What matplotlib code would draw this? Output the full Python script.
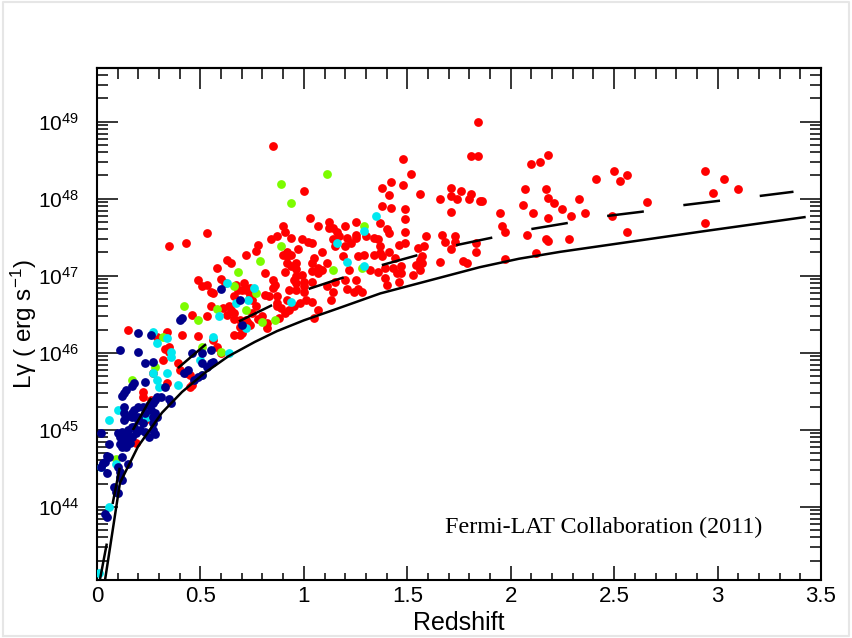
import numpy as np
import matplotlib
matplotlib.use('Agg')
import matplotlib.pyplot as plt
from matplotlib.ticker import MultipleLocator, LogLocator, NullFormatter, LogFormatterSciNotation
from matplotlib.lines import Line2D

plt.rcParams['font.family'] = ['Liberation Sans', 'DejaVu Sans']
plt.rcParams['mathtext.default'] = 'regular'

# ---------------- data (redshift, log10 L_gamma) ----------------
red_z = [1.84, 1.81, 1.84, 1.48, 1.52, 1.42, 1.38, 1.48, 1.56, 1.41, 1.00, 1.71, 1.76, 1.71, 1.74,
         1.81, 1.80, 1.85, 1.86, 1.66, 2.10, 2.14, 2.18, 2.07, 2.17, 2.18, 2.06, 2.21, 2.25, 2.11,
         2.18, 2.29, 2.33, 1.95, 1.71, 1.49, 1.38, 1.42, 1.03, 1.49, 1.49, 1.67, 1.68, 1.59, 1.73,
         1.73, 1.71, 1.83, 1.83, 1.96, 1.97, 2.08, 2.17, 2.18, 2.28, 2.12, 1.97, 1.77, 1.79, 1.66,
         1.56, 1.57, 1.58, 1.55, 1.46, 1.49, 1.44, 1.47, 1.41, 1.38, 1.37, 1.34, 1.36, 1.40, 1.41,
         1.37, 1.30, 1.25, 1.20, 1.12, 1.14, 1.12, 1.07, 0.90, 0.91, 0.94, 0.99, 1.02, 1.04, 0.97,
         0.90, 0.94, 1.05, 1.09, 1.04, 1.14, 1.16, 1.17, 1.21, 1.15, 1.20, 1.23, 1.25, 1.25, 1.19,
         1.26, 1.29, 1.34, 1.37, 1.11, 1.07, 1.07, 1.09, 1.04, 0.99, 0.96, 0.91, 0.94, 0.95, 0.93,
         0.96, 1.00, 1.04, 1.01, 0.98, 1.04, 1.11, 1.14, 1.13, 1.15, 1.20, 1.22, 1.24, 1.21, 1.26,
         1.28, 1.25, 1.32, 1.36, 1.39, 1.40, 1.39, 1.43, 1.45, 1.47, 1.46, 1.53, 1.56, 1.54, 1.57,
         0.92, 0.95, 0.89, 0.88, 1.07, 1.05, 0.91,
         2.94, 3.03, 2.98, 3.10, 2.94, 2.50, 2.56, 2.53, 2.41, 2.36, 2.66, 2.49, 2.56,
         0.85, 0.53, 0.35, 0.43, 0.87, 0.78, 0.77, 0.72, 0.63, 0.65, 0.92, 0.96, 0.81, 0.92, 0.49,
         0.51, 0.60, 0.62, 0.55, 0.56, 0.67, 0.68, 0.71, 0.72, 0.74, 0.74, 0.85, 0.86, 0.85, 1.00,
         1.00, 0.66, 0.70, 0.75, 0.77, 0.81, 0.83, 0.87, 0.87, 0.93, 0.46, 0.53, 0.55, 0.61, 0.63,
         0.65, 0.66, 0.69, 0.69, 0.78, 0.82, 0.82, 0.74, 0.41, 0.49, 0.66, 0.69, 0.34, 0.29, 0.92,
         0.58, 0.53, 0.96, 0.96, 0.64, 0.66, 0.75, 0.80, 0.87, 0.84, 0.15, 0.33, 0.35, 0.35, 0.32,
         0.39, 0.40, 0.34, 0.27, 0.43, 0.45, 0.22, 0.22, 0.26, 0.45, 0.46, 0.23, 0.60, 0.58, 0.56,
         0.70, 0.70, 0.72, 0.73, 0.19]
red_logL = [48.99, 48.55, 48.55, 48.51, 48.32, 48.22, 48.14, 48.18, 48.06, 48.05, 48.10, 48.14, 48.10, 48.03, 48.00,
            48.06, 47.99, 47.97, 47.97, 48.00, 48.45, 48.47, 48.57, 48.13, 48.12, 48.01, 47.92, 47.94, 47.86, 47.82,
            47.75, 47.78, 47.99, 47.82, 47.83, 47.86, 47.90, 47.88, 47.75, 47.73, 47.57, 47.53, 47.44, 47.51, 47.51,
            47.44, 47.34, 47.43, 47.31, 47.64, 47.57, 47.53, 47.48, 47.45, 47.48, 47.29, 47.22, 47.19, 47.17, 47.18,
            47.21, 47.25, 47.38, 47.36, 47.40, 47.43, 47.23, 47.13, 47.31, 47.25, 47.39, 47.49, 47.47, 47.60, 47.55,
            47.69, 47.51, 47.70, 47.64, 47.62, 47.62, 47.70, 47.65, 47.65, 47.57, 47.49, 47.48, 47.44, 47.43, 47.35,
            47.27, 47.27, 47.23, 47.31, 47.17, 47.48, 47.57, 47.51, 47.49, 47.38, 47.38, 47.42, 47.49, 47.53, 47.26,
            47.25, 47.27, 47.27, 47.30, 47.16, 47.10, 47.04, 47.08, 47.06, 47.01, 47.17, 47.05, 47.12, 46.95, 46.82,
            46.82, 46.92, 46.92, 46.69, 46.65, 46.66, 46.86, 46.79, 46.69, 46.92, 46.95, 47.08, 46.79, 46.83, 46.83,
            46.79, 46.95, 47.08, 47.05, 46.97, 46.88, 47.10, 47.10, 47.04, 47.04, 46.92, 47.01, 47.08, 47.14, 47.17,
            46.69, 46.60, 46.58, 46.45, 46.56, 46.45, 46.52,
            48.36, 48.25, 48.08, 48.13, 47.69, 48.36, 48.31, 48.23, 48.25, 47.81, 47.96, 47.77, 47.57,
            48.68, 47.56, 47.38, 47.43, 47.51, 47.40, 47.32, 47.27, 47.21, 47.17, 47.25, 47.09, 47.03, 47.17, 46.95,
            46.87, 46.96, 46.91, 46.79, 46.78, 46.88, 46.82, 46.91, 46.81, 46.84, 46.75, 46.95, 46.88, 46.84, 46.86,
            46.79, 46.74, 46.82, 46.69, 46.61, 46.75, 46.73, 46.73, 46.65, 46.56, 46.49, 46.48, 46.60, 46.58, 46.49,
            46.55, 46.44, 46.43, 46.34, 46.44, 46.39, 46.32, 46.36, 46.23, 46.22, 46.23, 46.23, 46.27, 46.21, 47.31,
            47.10, 46.88, 47.00, 46.91, 46.60, 46.52, 46.52, 46.47, 46.60, 47.48, 46.30, 46.05, 46.01, 46.08, 45.90,
            45.87, 45.78, 45.61, 45.74, 45.74, 45.71, 45.49, 45.43, 45.39, 45.55, 45.58, 45.13, 46.00, 46.08, 46.17,
            46.25, 46.39, 46.43, 46.39, 44.83]

navy_z = [0.20, 0.26, 0.11, 0.20, 0.23, 0.27, 0.40, 0.46, 0.42, 0.44, 0.47, 0.49, 0.51, 0.53, 0.55,
          0.56, 0.51, 0.55, 0.23, 0.18, 0.17, 0.14, 0.13, 0.12, 0.33, 0.29, 0.31, 0.28, 0.27, 0.25,
          0.35, 0.36, 0.20, 0.22, 0.18, 0.17, 0.17, 0.13, 0.13, 0.14, 0.13, 0.20, 0.23, 0.26, 0.27,
          0.28, 0.20, 0.22, 0.27, 0.18, 0.21, 0.23, 0.19, 0.15, 0.16, 0.14, 0.13, 0.17, 0.10, 0.11,
          0.02, 0.27, 0.28, 0.25, 0.29, 0.12, 0.15, 0.14, 0.11, 0.12, 0.14, 0.16, 0.17, 0.06, 0.05,
          0.06, 0.03, 0.02, 0.04, 0.05, 0.10, 0.11, 0.15, 0.11, 0.12, 0.08, 0.09, 0.10, 0.04, 0.05,
          0.12, 0.60, 0.69, 0.70, 0.41, 0.51]
navy_logL = [46.25, 46.23, 46.03, 46.01, 45.87, 45.88, 46.43, 46.00, 45.74, 45.78, 45.64, 45.69, 45.71, 45.81, 45.87,
             45.88, 46.00, 46.04, 45.62, 45.60, 45.57, 45.52, 45.48, 45.44, 45.55, 45.42, 45.43, 45.39, 45.35, 45.32,
             45.40, 45.35, 45.29, 45.30, 45.26, 45.22, 45.17, 45.30, 45.22, 45.17, 45.13, 45.17, 45.22, 45.26, 45.17,
             45.22, 45.13, 45.09, 45.09, 45.04, 45.00, 44.97, 44.96, 45.00, 44.91, 44.94, 44.90, 45.04, 44.96, 44.90,
             44.96, 45.00, 44.94, 44.91, 45.17, 44.97, 44.90, 44.84, 44.81, 44.77, 44.78, 44.83, 44.91, 44.81, 44.66,
             44.64, 44.57, 44.52, 44.58, 44.44, 44.51, 44.45, 44.55, 44.39, 44.35, 44.25, 44.19, 44.18, 43.90, 43.87,
             44.65, 46.83, 46.69, 46.36, 46.45, 45.87]

cyan_z = [0.09, 0.06, 0.01, 0.27, 0.34, 0.29, 0.36, 0.36, 0.56, 0.72, 0.27, 0.29, 0.34, 0.39, 0.50,
          0.64, 0.10, 0.06, 0.24, 0.63, 0.76, 0.73, 0.67, 0.59, 0.94, 1.35, 1.29, 1.16, 1.21, 1.29,
          0.02, 0.30, 0.22]
cyan_logL = [44.55, 44.00, 43.14, 46.27, 46.19, 46.13, 46.01, 45.95, 46.21, 46.32, 45.74, 45.65, 45.74, 45.58, 45.91,
             46.00, 45.26, 45.13, 45.16, 46.91, 46.84, 46.69, 46.65, 46.47, 46.66, 47.78, 47.58, 47.43, 47.18, 47.12,
             44.52, 45.55, 45.13]

green_z = [0.89, 1.11, 0.94, 0.89, 1.29, 1.14, 1.28, 0.79, 0.68, 0.66, 0.58, 0.80, 0.86, 0.42, 0.49,
           0.77, 0.72, 0.32, 0.60, 0.51, 0.17, 0.28, 0.51, 0.09]
green_logL = [48.19, 48.32, 47.95, 47.39, 47.65, 47.08, 47.10, 47.19, 47.05, 46.87, 46.57, 46.40, 46.42, 46.61, 46.42,
              46.78, 46.55, 46.21, 46.01, 46.08, 45.64, 45.82, 45.71, 44.62]

# flux-limit curves
solid_z = [0.039, 0.111, 0.150, 0.198, 0.314, 0.411, 0.522, 0.633, 0.763, 0.870, 1.00, 1.16, 1.37,
           1.85, 2.04, 2.24, 2.94, 3.42]
solid_logL = [43.05, 44.31, 44.52, 44.78, 45.22, 45.49, 45.74, 45.95, 46.14, 46.28, 46.42, 46.57, 46.77,
              47.11, 47.22, 47.31, 47.58, 47.76]
dash_z = [0.014, 0.048, 0.077, 0.111, 0.174, 0.256, 0.387, 0.522, 0.681, 0.841, 1.014, 1.184,
          1.367, 1.541, 1.725, 1.903, 2.087, 2.266, 2.449, 2.633, 2.816, 3.0, 3.188, 3.367]
dash_logL = [43.05, 43.53, 44.06, 44.52, 45.0, 45.39, 45.79, 46.10, 46.40, 46.61, 46.82, 46.97,
             47.13, 47.26, 47.39, 47.49, 47.60, 47.68, 47.77, 47.83, 47.91, 47.97, 48.03, 48.09]

x_ticks = [0, 0.5, 1, 1.5, 2, 2.5, 3, 3.5]
x_ticklabels = ['0', '0.5', '1', '1.5', '2', '2.5', '3', '3.5']

# ---------------- figure ----------------
W, H = 852, 638
fig = plt.figure(figsize=(W / 100, H / 100), dpi=100)
ax = fig.add_axes([97 / W, 1 - 580 / H, (821 - 97) / W, (580 - 68) / H])

ms = 40
ax.scatter(red_z, 10 ** np.array(red_logL), s=ms, c='#ff0000', linewidths=0, zorder=2)
ax.scatter(green_z, 10 ** np.array(green_logL), s=ms, c='#7cfc00', linewidths=0, zorder=3)
ax.scatter(cyan_z, 10 ** np.array(cyan_logL), s=ms, c='#00e8f0', linewidths=0, zorder=3.5)
ax.scatter(navy_z, 10 ** np.array(navy_logL), s=ms, c='#00008b', linewidths=0, zorder=4)

lw = 1.8
ax.plot(solid_z, 10 ** np.array(solid_logL), color='black', lw=lw, zorder=5)
ax.plot(dash_z, 10 ** np.array(dash_logL), color='black', lw=lw,
        linestyle=(0, (26.6 / lw, 28.8 / lw)), zorder=5)

ax.set_yscale('log')
ax.set_xlim(0, 3.5)
ax.set_ylim(10 ** 43.048, 10 ** 49.697)

ax.set_xticks(x_ticks)
ax.set_xticklabels(x_ticklabels)
ax.xaxis.set_minor_locator(MultipleLocator(0.1))
ax.yaxis.set_major_locator(LogLocator(base=10, numticks=20))
ax.yaxis.set_minor_locator(LogLocator(base=10, subs=np.arange(2, 10), numticks=20))
ax.yaxis.set_minor_formatter(NullFormatter())
ax.yaxis.set_major_formatter(LogFormatterSciNotation())

ax.tick_params(axis='x', which='major', direction='in', length=10, width=1.1, top=False,
               labelsize=16, pad=4.5)
ax.tick_params(axis='x', which='minor', direction='in', length=5, width=1.1, top=False)
ax.tick_params(axis='y', which='major', direction='in', length=15, width=1.1, right=True,
               labelsize=15, pad=13)
ax.tick_params(axis='y', which='minor', direction='in', length=8, width=1.1, right=True)

sec = ax.secondary_xaxis('top')
sec.set_xticks(x_ticks)
sec.xaxis.set_minor_locator(MultipleLocator(0.1))
sec.tick_params(axis='x', which='major', direction='in', length=15, width=1.1, labeltop=False)
sec.tick_params(axis='x', which='minor', direction='in', length=8, width=1.1)

for sp in ax.spines.values():
    sp.set_linewidth(1.5)
sec.spines['top'].set_linewidth(1.5)

fig.text(459 / W, 1 - 623 / H, 'Redshift', ha='center', va='center', fontsize=18)
fig.text(24 / W, 1 - 324 / H, 'L\u03b3 ( erg s$^{-1}$)', ha='center', va='center',
         rotation=90, fontsize=17.5)

ax.text(0.9185, 0.0918, 'Fermi-LAT Collaboration (2011)', transform=ax.transAxes,
        ha='right', va='baseline', fontsize=17.4, family=['Liberation Serif', 'DejaVu Serif'])

# faint frame around the slide
e = 0.003
fig.add_artist(Line2D([e, 1 - e, 1 - e, e, e], [e, e, 1 - e, 1 - e, e], transform=fig.transFigure,
                      color='#e6e6e6', lw=1.5))

fig.savefig('out.png', dpi=100)
